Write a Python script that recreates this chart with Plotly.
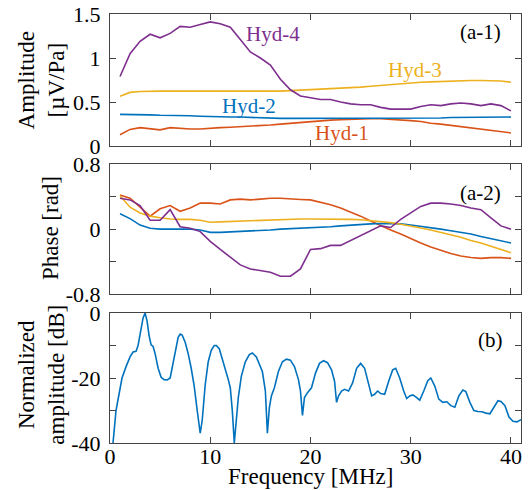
import plotly.graph_objects as go
from plotly.subplots import make_subplots

# ---------------- data ----------------
freq_a = list(range(1, 41))

amp_hyd1 = [0.13,0.19,0.21,0.195,0.185,0.21,0.2,0.195,0.195,0.205,0.21,0.215,0.22,0.225,0.23,0.24,0.25,0.26,0.27,0.28,
            0.29,0.295,0.30,0.305,0.31,0.31,0.31,0.305,0.30,0.29,0.28,0.26,0.25,0.235,0.225,0.21,0.195,0.18,0.165,0.15]
amp_hyd2 = [0.36,0.36,0.355,0.355,0.35,0.35,0.345,0.345,0.34,0.335,0.335,0.33,0.33,0.325,0.32,0.32,0.315,0.315,0.315,0.315,
            0.315,0.315,0.315,0.315,0.315,0.315,0.315,0.315,0.315,0.32,0.32,0.32,0.32,0.325,0.325,0.33,0.33,0.33,0.33,0.33]
amp_hyd3 = [0.565,0.61,0.62,0.625,0.625,0.625,0.625,0.625,0.625,0.625,0.62,0.62,0.62,0.62,0.62,0.62,0.625,0.63,0.635,0.645,
            0.65,0.655,0.66,0.665,0.67,0.68,0.69,0.70,0.71,0.72,0.725,0.73,0.735,0.74,0.745,0.745,0.745,0.745,0.74,0.725]
amp_hyd4 = [0.79,1.05,1.19,1.27,1.23,1.28,1.36,1.35,1.38,1.41,1.39,1.35,1.21,1.07,1.00,0.92,0.76,0.64,0.57,0.55,
            0.53,0.53,0.50,0.48,0.47,0.47,0.44,0.42,0.42,0.42,0.45,0.47,0.46,0.48,0.49,0.48,0.46,0.48,0.46,0.40]

ph_hyd1 = [0.42,0.38,0.27,0.16,0.25,0.29,0.22,0.26,0.32,0.32,0.31,0.36,0.37,0.36,0.37,0.38,0.38,0.37,0.365,0.36,
           0.33,0.30,0.26,0.21,0.16,0.10,0.04,-0.01,-0.06,-0.12,-0.17,-0.22,-0.26,-0.30,-0.33,-0.35,-0.36,-0.35,-0.35,-0.36]
ph_hyd2 = [0.19,0.13,0.05,0.01,0.0,0.0,0.0,0.0,-0.01,-0.04,-0.04,-0.035,-0.03,-0.025,-0.02,-0.01,0.0,0.005,0.01,0.015,
           0.02,0.03,0.04,0.05,0.055,0.065,0.07,0.07,0.065,0.05,0.035,0.02,0.0,-0.02,-0.04,-0.06,-0.09,-0.115,-0.14,-0.17]
ph_hyd3 = [0.41,0.27,0.2,0.16,0.14,0.125,0.12,0.12,0.11,0.085,0.09,0.095,0.10,0.105,0.11,0.115,0.12,0.125,0.125,0.125,
           0.125,0.125,0.125,0.12,0.115,0.105,0.095,0.08,0.06,0.04,0.015,-0.01,-0.04,-0.07,-0.10,-0.14,-0.17,-0.21,-0.25,-0.29]
ph_hyd4 = [0.38,0.36,0.29,0.11,0.11,0.24,0.03,0.01,-0.03,-0.15,-0.25,-0.34,-0.44,-0.49,-0.51,-0.53,-0.58,-0.58,-0.49,-0.25,
           -0.24,-0.2,-0.2,-0.14,-0.08,-0.01,0.04,0.02,0.12,0.2,0.28,0.32,0.32,0.31,0.29,0.26,0.24,0.14,0.04,0.0]

freq_b = [0.3,0.6,0.9,1.2,1.6,2.0,2.3,2.6,2.8,3.1,3.3,3.5,3.7,3.9,4.1,4.3,4.5,4.8,5.1,5.4,5.7,6.0,6.2,6.5,6.8,7.0,7.2,7.5,
          7.8,8.1,8.4,8.7,8.9,9.0,9.2,9.5,9.8,10.1,10.4,10.6,10.9,11.2,11.5,11.8,12.0,12.2,12.4,12.6,12.8,13.1,13.5,13.9,
          14.2,14.6,14.9,15.2,15.5,15.7,15.9,16.1,16.4,16.8,17.2,17.6,18.0,18.4,18.8,19.0,19.2,19.4,19.7,20.1,20.5,20.9,
          21.3,21.7,22.1,22.4,22.6,22.8,23.1,23.4,23.8,24.2,24.6,25.0,25.4,25.8,26.1,26.4,26.7,27.0,27.4,27.8,28.2,28.5,
          28.9,29.3,29.6,29.9,30.2,30.5,30.9,31.3,31.7,32.0,32.4,32.8,33.2,33.6,34.0,34.4,34.8,35.2,35.5,35.9,36.3,36.7,
          37.1,37.5,37.9,38.3,38.7,39.0,39.4,39.8,40.2,40.6,41.0]
norm_db = [-40,-30,-25,-20,-16.5,-13.5,-12,-11.8,-10,-4.5,-1.5,0,-2.5,-7,-9.8,-10.3,-12.5,-17,-19.8,-20.5,-20.6,-20,-17,
           -11.5,-7.5,-6.5,-6.8,-9,-12.5,-17,-22.5,-30,-35.5,-37,-33,-22,-15,-11.5,-10,-10,-11,-14,-17.5,-20.5,-23,-30,
           -40,-32,-26,-19.5,-15,-12.8,-12.3,-13.5,-16,-18,-24,-37,-29,-25.5,-23,-18,-15,-14.2,-14.5,-16.5,-20.5,-24,-31.5,
           -26,-24.5,-23,-18.5,-15.5,-14.7,-15.3,-17.5,-21,-27.5,-25.5,-24,-23.5,-24,-21.5,-17,-15.5,-17,-21.5,-25.5,-25,
           -24,-24.8,-25,-21,-17.5,-17,-20,-24,-26.3,-25.5,-25.2,-25.8,-26.8,-24,-20.8,-20,-22.5,-26.5,-27.5,-27.3,-28.5,
           -29,-25.5,-23.7,-24.2,-27.5,-30,-30.3,-30.4,-30.8,-31,-29,-27,-27.2,-28.5,-32,-33.3,-33.5,-32.8]

x_ticks = [0, 10, 20, 30, 40]
amp_ticks = [0, 0.5, 1, 1.5]
ph_ticks = [-0.8, -0.4, 0, 0.4, 0.8]
ph_ticktext = ["-0.8", "", "0", "", "0.8"]
db_ticks = [-40, -30, -20, -10, 0]
db_ticktext = ["-40", "", "-20", "", "0"]

names = ["Hyd-1", "Hyd-2", "Hyd-3", "Hyd-4"]
colors = ["#D95319", "#0072BD", "#EDB120", "#7E2F8E"]

# ---------------- figure ----------------
FONT = "Liberation Serif"
fig = make_subplots(rows=3, cols=1)

for amp, ph, nm, col in zip([amp_hyd1, amp_hyd2, amp_hyd3, amp_hyd4],
                            [ph_hyd1, ph_hyd2, ph_hyd3, ph_hyd4], names, colors):
    fig.add_trace(go.Scatter(x=freq_a, y=amp, mode="lines", name=nm,
                             line=dict(color=col, width=1.6)), row=1, col=1)
    fig.add_trace(go.Scatter(x=freq_a, y=ph, mode="lines", name=nm, showlegend=False,
                             line=dict(color=col, width=1.6)), row=2, col=1)

fig.add_trace(go.Scatter(x=freq_b, y=norm_db, mode="lines", showlegend=False,
                         line=dict(color="#0072BD", width=1.6)), row=3, col=1)

axis_common = dict(showline=True, mirror="ticks", linecolor="#444", linewidth=1,
                   ticks="inside", ticklen=6, tickcolor="#444", showgrid=False, zeroline=False,
                   automargin=False, ticklabeloverflow="allow",
                   tickfont=dict(family=FONT, size=22, color="black"))

fig.update_layout(
    width=530, height=490, showlegend=False,
    paper_bgcolor="white", plot_bgcolor="white",
    margin=dict(l=110, r=9, t=14, b=47),
    font=dict(family=FONT, size=22, color="black"),
)

fig.update_xaxes(**axis_common, range=[0, 41], tickvals=x_ticks, ticklabelstandoff=-6)
fig.update_xaxes(showticklabels=False, row=1, col=1)
fig.update_xaxes(showticklabels=False, row=2, col=1)

fig.update_yaxes(**axis_common, ticklabelstandoff=4)
fig.update_layout(
    yaxis=dict(domain=[0.692, 1.0], range=[0, 1.5], tickvals=amp_ticks),
    yaxis2=dict(domain=[0.347, 0.650], range=[-0.8, 0.8], tickvals=ph_ticks, ticktext=ph_ticktext),
    yaxis3=dict(domain=[0.0, 0.303], range=[-40, 0], tickvals=db_ticks, ticktext=db_ticktext),
)

# axis titles as annotations (paper coordinates)
title_font = dict(family=FONT, size=23, color="black")
fig.add_annotation(x=0.487, y=-0.078, xref="paper", yref="paper", text="Frequency [MHz]",
                   showarrow=False, xanchor="center", yanchor="middle", font=title_font)
fig.add_annotation(x=-0.167, y=0.846, xref="paper", yref="paper", text="Amplitude<br>[µV/Pa]",
                   textangle=-90, showarrow=False, xanchor="center", yanchor="middle", font=title_font)
fig.add_annotation(x=-0.146, y=0.501, xref="paper", yref="paper", text="Phase [rad]",
                   textangle=-90, showarrow=False, xanchor="center", yanchor="middle", font=title_font)
fig.add_annotation(x=-0.167, y=0.160, xref="paper", yref="paper", text="Normalized<br>amplitude [dB]",
                   textangle=-90, showarrow=False, xanchor="center", yanchor="middle", font=title_font)

ann_font = dict(family=FONT, size=21)
labels = [
    ("Hyd-4", 16.3, 1.27, colors[3]),
    ("Hyd-3", 30.4, 0.87, colors[2]),
    ("Hyd-2", 13.9, 0.46, colors[1]),
    ("Hyd-1", 23.1, 0.145, colors[0]),
]
for txt, xx, yy, col in labels:
    fig.add_annotation(x=xx, y=yy, xref="x", yref="y", text=txt, showarrow=False,
                       font=dict(ann_font, color=col))

fig.add_annotation(x=39.2, y=1.3, xref="x", yref="y", text="(a-1)", showarrow=False,
                   xanchor="right", font=dict(ann_font, color="black"))
fig.add_annotation(x=39.2, y=0.45, xref="x2", yref="y2", text="(a-2)", showarrow=False,
                   xanchor="right", font=dict(ann_font, color="black"))
fig.add_annotation(x=39.4, y=-8.3, xref="x3", yref="y3", text="(b)", showarrow=False,
                   xanchor="right", font=dict(ann_font, color="black"))

# remove the default page margin so the 530x490 figure fills the window exactly
fig.write_html("out.html", config={"displayModeBar": False},
               post_script="document.body.style.margin='0';document.body.style.overflow='hidden';")
